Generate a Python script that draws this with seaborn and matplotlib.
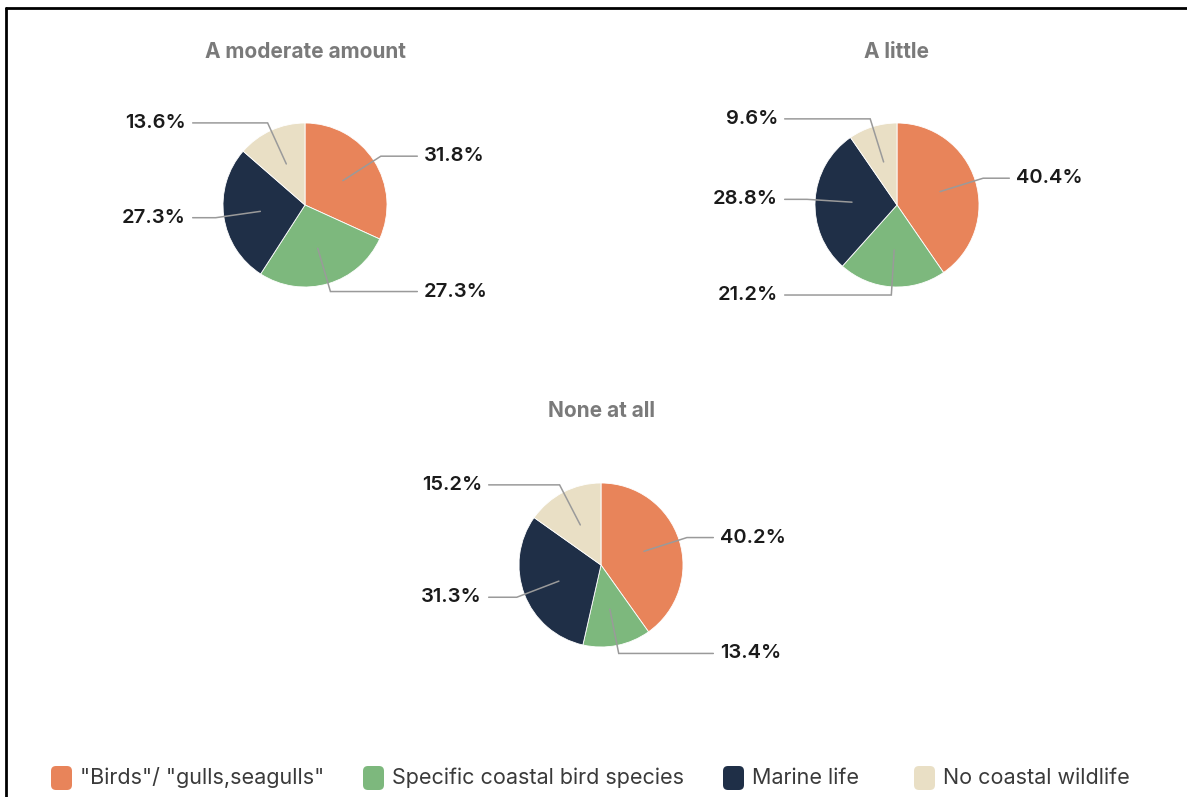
import numpy as np
import matplotlib
matplotlib.use("Agg")
import matplotlib.pyplot as plt
import seaborn as sns
from matplotlib.patches import FancyBboxPatch
from matplotlib.lines import Line2D

# Data
categories = ['"Birds"/ "gulls,seagulls"', 'Specific coastal bird species',
              'Marine life', 'No coastal wildlife']
panel_titles = ['A moderate amount', 'A little', 'None at all']
moderate = [31.8, 27.3, 27.3, 13.6]
little = [40.4, 21.2, 28.8, 9.6]
none_at_all = [40.2, 13.4, 31.3, 15.2]

sns.set_theme(style="white")
plt.rcParams['font.family'] = ['Inter', 'DejaVu Sans']
palette = sns.color_palette(['#E8845A', '#7DB87D', '#1F2F47', '#E9DFC5'])

W, H = 1187, 797
fig = plt.figure(figsize=(W / 100, H / 100), dpi=100)
fig.patch.set_facecolor('white')
ax = fig.add_axes([0, 0, 1, 1])

# Layout (pixel positions measured from the top-left corner)
centres = [(305, 205), (897, 205), (601, 565)]
title_rows = [52, 52, 411]
R = 82

for vals, title, (cx, cy_top), ty in zip([moderate, little, none_at_all],
                                          panel_titles, centres, title_rows):
    cy = H - cy_top
    wedges, _ = ax.pie(vals, colors=palette, startangle=90, counterclock=False,
                       center=(cx, cy), radius=R,
                       wedgeprops=dict(linewidth=0.6, edgecolor='white'))
    ax.text(cx, H - ty, title, ha='center', va='center', fontsize=15,
            fontweight='bold', color='#7a7a7a')
    for w, v in zip(wedges, vals):
        a = np.deg2rad((w.theta1 + w.theta2) / 2)
        c, s = np.cos(a), np.sin(a)
        side = 1 if c >= 0 else -1
        p0 = (cx + 0.55 * R * c, cy + 0.55 * R * s)
        p1 = (cx + 1.1 * R * c, cy + 1.1 * R * s)
        p2 = (cx + side * 1.37 * R, p1[1])
        ax.plot([p0[0], p1[0], p2[0]], [p0[1], p1[1], p2[1]],
                color='#9a9a9a', lw=1.1, solid_joinstyle='miter')
        ax.text(cx + side * 1.45 * R, p1[1], f"{v:.1f}%",
                ha='left' if side > 0 else 'right', va='center',
                fontsize=14.5, fontweight='semibold', color='#1a1a1a')

# Legend row
leg_x = [50, 362, 722, 913]
leg_y = H - 778
for x, col, name in zip(leg_x, palette, categories):
    ax.add_patch(FancyBboxPatch((x + 1, leg_y - 12), 21, 24,
                                boxstyle="round,pad=0,rounding_size=5",
                                facecolor=col, edgecolor='none'))
    ax.text(x + 30, leg_y, name, ha='left', va='center', fontsize=15.5,
            color='#3a3a3a')

ax.set_xlim(0, W)
ax.set_ylim(0, H)
ax.set_aspect('equal')
ax.axis('off')

# Frame lines along the top and left edges
fig.add_artist(Line2D([6 / W, 1], [1 - 7.5 / H] * 2, transform=fig.transFigure,
                      color='black', lw=2))
fig.add_artist(Line2D([6 / W] * 2, [0, 1 - 7.5 / H], transform=fig.transFigure,
                      color='black', lw=2))

fig.savefig('out.png', dpi=100, facecolor='white')
